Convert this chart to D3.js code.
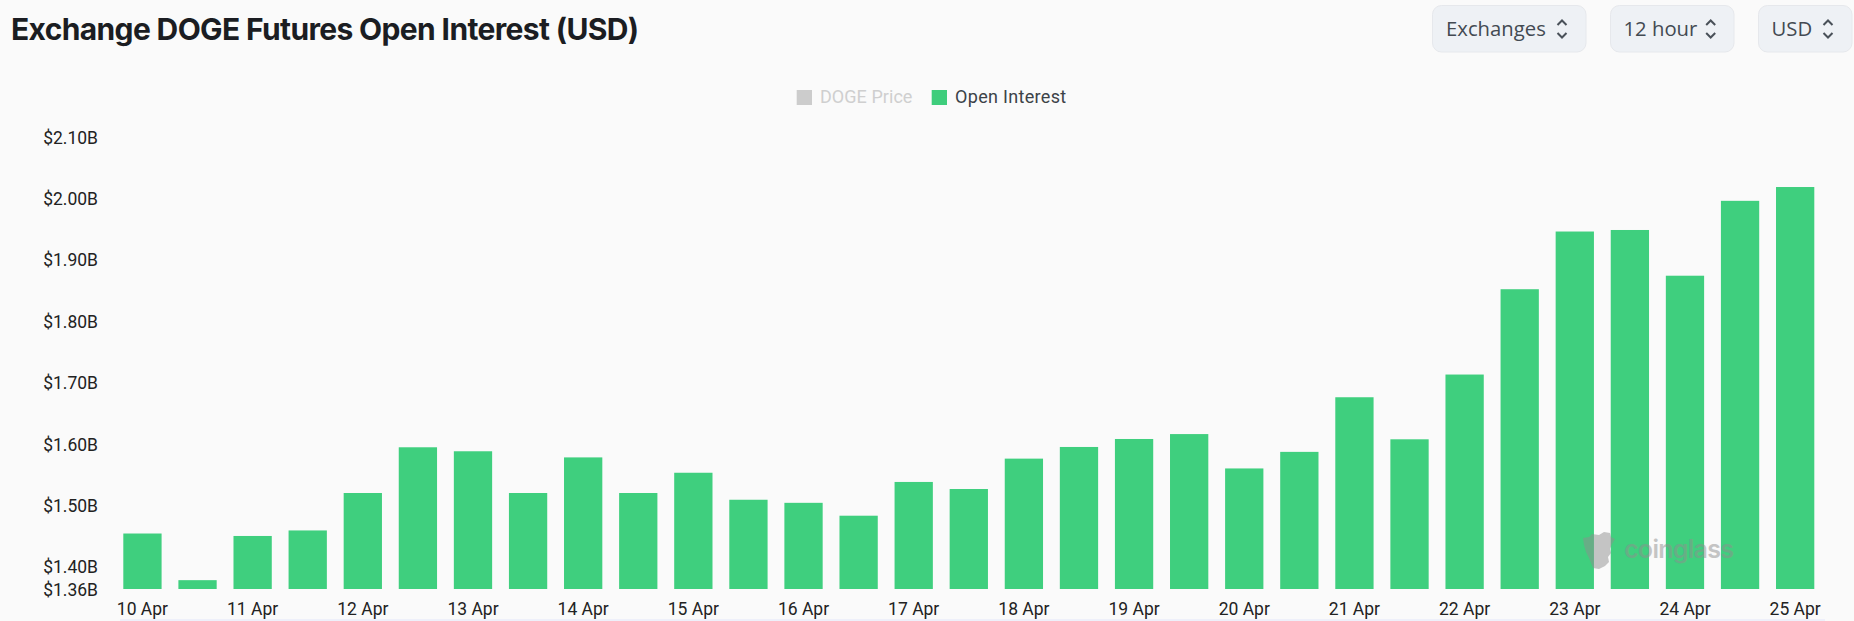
<!DOCTYPE html>
<html><head><meta charset="utf-8">
<script src="https://cdn.jsdelivr.net/npm/d3@7/dist/d3.min.js"></script>
<style>
html,body{margin:0;padding:0;background:#fafafa;overflow:hidden}
svg{display:block}
</style></head><body>
<svg id="c" width="1854" height="621"></svg>
<script>
const chartTitle = "Exchange DOGE Futures Open Interest (USD)";
const categories = ["10 Apr","10 Apr b","11 Apr","11 Apr b","12 Apr","12 Apr b","13 Apr","13 Apr b","14 Apr","14 Apr b","15 Apr","15 Apr b","16 Apr","16 Apr b","17 Apr","17 Apr b","18 Apr","18 Apr b","19 Apr","19 Apr b","20 Apr","20 Apr b","21 Apr","21 Apr b","22 Apr","22 Apr b","23 Apr","23 Apr b","24 Apr","24 Apr b","25 Apr"];
const openInterest = [1.454,1.378,1.450,1.459,1.520,1.5945,1.588,1.520,1.578,1.520,1.553,1.509,1.504,1.483,1.538,1.5265,1.576,1.595,1.608,1.616,1.560,1.587,1.676,1.6075,1.713,1.852,1.946,1.9485,1.874,1.996,2.0185];
const yTickValues = [1.3636,1.40,1.50,1.60,1.70,1.80,1.90,2.00,2.10];
const yTickLabels = ["$1.36B","$1.40B","$1.50B","$1.60B","$1.70B","$1.80B","$1.90B","$2.00B","$2.10B"];
const xTickValues = categories.filter((d,i)=>i%2===0);
const legendItems = ["DOGE Price","Open Interest"];
const controls = ["Exchanges","12 hour","USD"];

const svg = d3.select("#c");
const y = d3.scaleLinear().domain([yTickValues[0],2.10]).range([589,137]);
const x = d3.scaleBand().domain(categories).range([106.5,1831.1]).padding(0.305);

svg.append("rect").attr("x",120).attr("y",619).attr("width",1705).attr("height",2).attr("fill","#eef0fa");

svg.append("text").attr("x",11).attr("y",40).attr("fill","#1b1d22")
  .attr("font-family","Inter").attr("font-weight",700).attr("font-size",30)
  .attr("letter-spacing",-0.64).text(chartTitle);

// controls
const boxes = [[1432.5,153.5,1446,1562],[1610.5,123.5,1623.5,1710.7],[1758.5,93.5,1771.5,1828]];
controls.forEach((t,i)=>{
  const b = boxes[i], g = svg.append("g");
  g.append("rect").attr("x",b[0]).attr("y",5.5).attr("width",b[1]).attr("height",46.5).attr("rx",9)
    .attr("fill","#eef1f5").attr("stroke","#e6e8ec");
  g.append("text").attr("x",b[2]).attr("y",36).attr("fill","#434a52")
    .attr("font-family","Open Sans").attr("font-size",20.3).text(t);
  g.append("path").attr("fill","none").attr("stroke","#4a5159").attr("stroke-width",2)
    .attr("d",`M${b[3]-4.5} 25l4.5-4.5l4.5 4.5M${b[3]-4.5} 33l4.5 4.5l4.5-4.5`);
});

// legend
[[796.7,820,"#cccccc","#cfcfcf",0.05],[931.7,955,"#3ecd7c","#3c4248",0.32]].forEach((l,i)=>{
  svg.append("rect").attr("x",l[0]).attr("y",90).attr("width",15.3).attr("height",15).attr("fill",l[2]);
  svg.append("text").attr("x",l[1]).attr("y",103).attr("fill",l[3])
    .attr("font-family","Roboto").attr("font-size",18).attr("letter-spacing",l[4]).text(legendItems[i]);
});

// bars
svg.append("g").selectAll("rect").data(openInterest).join("rect")
  .attr("x",(d,i)=>x(categories[i])).attr("width",x.bandwidth())
  .attr("y",d=>y(d)).attr("height",d=>y.range()[0]-y(d))
  .attr("fill","#3fcf7e");

// axes
const yAxis = d3.axisLeft(y).tickValues(yTickValues).tickSize(0).tickPadding(0)
  .tickFormat((d,i)=>yTickLabels[i]);
const ya = svg.append("g").attr("transform","translate(98,0.5)").call(yAxis);
ya.select(".domain").remove();
ya.selectAll("text").attr("font-family","Roboto").attr("font-size",17.5).attr("fill","#222");

const xAxis = d3.axisBottom(x).tickValues(xTickValues).tickSize(0).tickPadding(0)
  .tickFormat(d=>d);
const xa = svg.append("g").attr("transform","translate(0,602.6)").call(xAxis);
xa.select(".domain").remove();
xa.selectAll("text").attr("font-family","Roboto").attr("font-size",17.5).attr("fill","#222");

// watermark
const wm = svg.append("g").attr("opacity",0.5);
wm.append("path").attr("fill","#8f8f8f")
  .attr("d","M1583 538l6-1l3-3l7 1l5-3l6 1l1 4l4 2l-3 5l-2 5l1 4l-3 4l1 5l-4 4l-6 3l-6-1l-2-5l-2-5l-3-6l-2-7z");
wm.append("text").attr("x",1624).attr("y",558).attr("fill","#8f8f8f")
  .attr("font-family","Inter").attr("font-weight",600).attr("font-size",25).attr("letter-spacing",-0.7).text("coinglass");
</script>
</body></html>
